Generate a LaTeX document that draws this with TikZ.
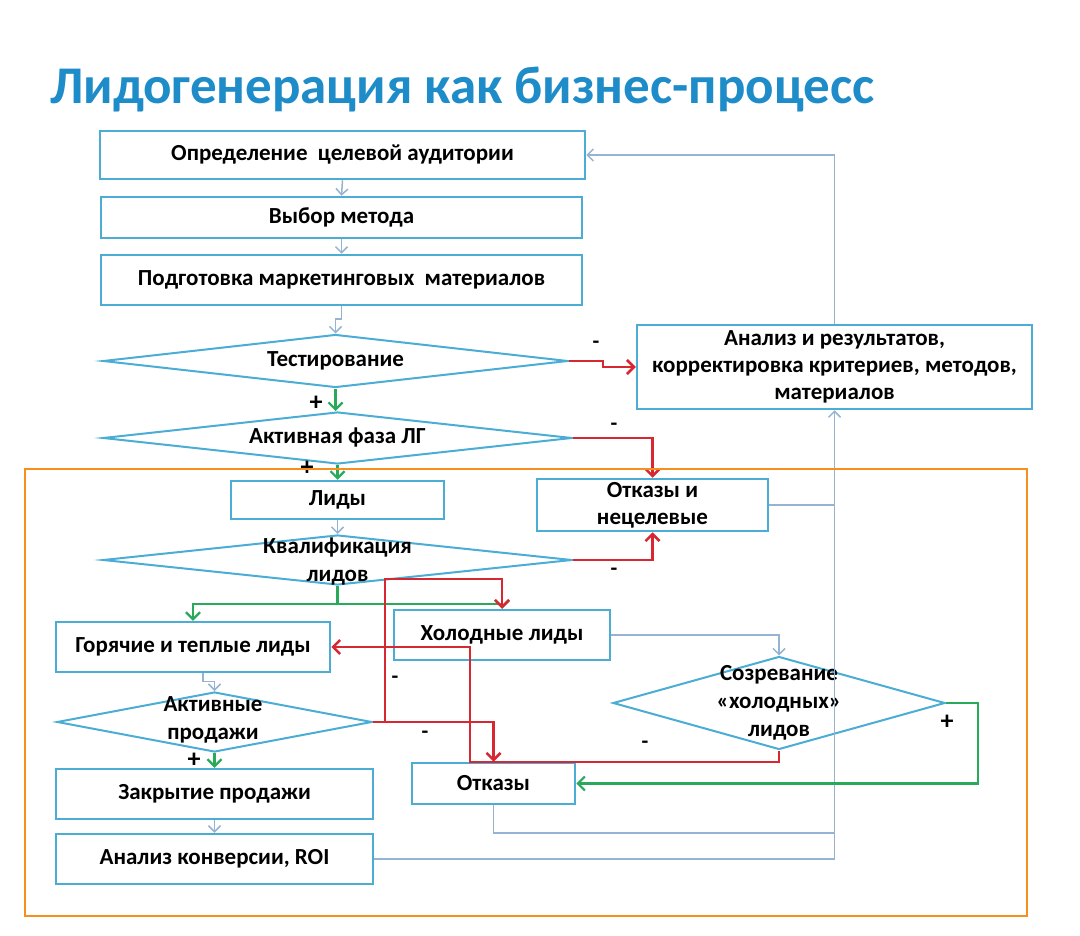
\documentclass[tikz,border=0pt]{standalone}
\usepackage{fontspec}
\setmainfont{Carlito}
\usetikzlibrary{arrows.meta, shapes.geometric, positioning}
\definecolor{boxBlue}{RGB}{75,172,212}
\definecolor{lineBlue}{RGB}{150,180,210}
\definecolor{titleBlue}{RGB}{30,140,200}
\definecolor{noRed}{RGB}{215,40,50}
\definecolor{yesGreen}{RGB}{40,170,90}
\definecolor{frameOrange}{RGB}{247,143,30}

\tikzset{
  stepbox/.style={draw=boxBlue, line width=2.5pt, fill=white, align=center, inner sep=0pt,
    font=\bfseries\fontsize{23}{27}\selectfont},
  choice/.style={diamond, draw=boxBlue, line width=2pt, inner sep=0pt},
  choicetext/.style={align=center, inner sep=0pt, font=\bfseries\fontsize{23}{28}\selectfont},
  flow/.style={lineBlue, line width=1.5pt, -{Straight Barb[length=6pt, width=12pt]}},
  fbline/.style={lineBlue, line width=1.5pt},
  nope/.style={noRed, line width=2.5pt, -{Straight Barb[length=7pt, width=14pt]}},
  yes/.style={yesGreen, line width=2.2pt, -{Straight Barb[length=7pt, width=14pt]}},
  sign/.style={inner sep=0pt, font=\bfseries\fontsize{22}{22}\selectfont},
  plus/.style={inner sep=0pt, font=\bfseries\fontsize{26}{26}\selectfont}
}

\begin{document}
\begin{tikzpicture}[x=1pt, y=-1pt]
    \useasboundingbox (0,0) rectangle (1080,936);

    \node[anchor=west, inner sep=0pt, text=titleBlue, font=\bfseries\fontsize{53}{53}\selectfont] (title) at (50,90) {Лидогенерация как бизнес-процесс};

    % main column
    \node[stepbox, minimum width=485pt, minimum height=48pt] (aud) at (342.5,155) {Определение\ \ целевой аудитории};
    \node[stepbox, minimum width=481pt, minimum height=41pt] (method) at (341.5,217.5) {Выбор метода};
    \node[stepbox, minimum width=481pt, minimum height=50pt] (prep) at (341.5,280) {Подготовка маркетинговых\ \ материалов};
    \node[choice, minimum width=465pt, minimum height=53pt] (test) at (335.5,361) {};
    \node[choicetext] (testtxt) at (test) {Тестирование};
    \node[choice, minimum width=469pt, minimum height=52pt] (active) at (337.5,438) {};
    \node[choicetext] (activetxt) at (active) {Активная фаза ЛГ};
    \node[stepbox, minimum width=213pt, minimum height=38pt] (leads) at (337.5,500) {Лиды};
    \node[choice, minimum width=469pt, minimum height=50pt] (qual) at (337.5,560) {};
    \node[choicetext] (qualtxt) at (337.5,562) {Квалификация\\лидов};

    % lower part
    \node[stepbox, minimum width=274pt, minimum height=50pt] (hot) at (193,647) {Горячие и теплые лиды};
    \node[stepbox, minimum width=216pt, minimum height=50pt] (cold) at (502,635) {Холодные лиды};
    \node[choice, minimum width=315pt, minimum height=60pt] (sales) at (214.5,722) {};
    \node[choicetext] (salestxt) at (213,720) {Активные\\продажи};
    \node[stepbox, minimum width=317pt, minimum height=50pt] (close) at (214.5,794) {Закрытие продажи};
    \node[stepbox, minimum width=317pt, minimum height=50pt] (roi) at (214.5,859) {Анализ конверсии, ROI};
    \node[stepbox, minimum width=163pt, minimum height=41pt] (lost) at (493.5,783.5) {Отказы};
    \node[choice, minimum width=332pt, minimum height=93pt] (ripe) at (779,703) {};
    \node[choicetext] (ripetxt) at (ripe) {Созревание\\«холодных»\\лидов};

    % right side
    \node[stepbox, minimum width=395pt, minimum height=84pt] (review) at (834.5,367) {Анализ и результатов,\\корректировка критериев, методов,\\материалов};
    \node[stepbox, minimum width=231pt, minimum height=52pt] (junk) at (652.5,505) {Отказы и\\нецелевые};

    % plain flow
    \draw[flow] (aud.south) -- (method.north);
    \draw[flow] (method.south) -- (prep.north);
    \draw[flow] (prep.south) -- ++(0,13) -| (test.north);
    \draw[flow] (leads.south) -- (leads.south |- qual.north);
    \draw[flow] ([xshift=10pt]hot.south) -- ++(0,8) -| (sales.north);
    \draw[flow] (close.south) -- (roi.north);
    \draw[flow] (cold.east) -| (ripe.north);

    % feedback to review
    \draw[flow] (review.north) |- (aud.east);
    \draw[flow] (roi.east) -| (review.south);
    \draw[fbline] (junk.east) -- (junk.east -| review.south);
    \draw[fbline] (lost.south) |- ([yshift=26pt]review.south |- roi.east);

    % yes branches
    \draw[yes] (test.south) -- (test.south |- active.north);
    \draw[yes] (active.south) -- (active.south |- leads.north);
    \draw[yes] (qual.south) -- ++(0,18) -| (cold.north);
    \draw[yes] (qual.south) -- ++(0,18) -| (hot.north);
    \draw[yes] (sales.south) -- (sales.south |- close.north);
    \draw[yes] (ripe.east) -- ++(32,0) |- (lost.east);

    % no branches
    \draw[nope] (test.east) -- ++(34,0) |- (review.west);
    \draw[nope] (active.east) -| (junk.north);
    \draw[nope] (qual.east) -| (junk.south);
    \draw[nope] (sales.east) -- ++(12,0) |- ([yshift=30pt]cold.north) -- (cold.north);
    \draw[nope] (sales.east) -| (lost.north);
    \draw[nope] (ripe.south) |- ([xshift=-23.5pt]lost.north) |- (hot.east);

    % signs
    \node[sign] (t1) at (596,345) {-};
    \node[sign] (t2) at (614,427) {-};
    \node[sign] (t3) at (614,572) {-};
    \node[sign] (t4) at (395,680) {-};
    \node[sign] (t5) at (425,735) {-};
    \node[sign] (t6) at (645,745) {-};
    \node[plus] (p1) at (316,403) {+};
    \node[plus] (p2) at (307,468) {+};
    \node[plus] (p3) at (194,760) {+};
    \node[plus] (p4) at (947,722) {+};

    \draw[frameOrange, line width=2pt] (25,469) rectangle (1027,916);
\end{tikzpicture}
\end{document}
